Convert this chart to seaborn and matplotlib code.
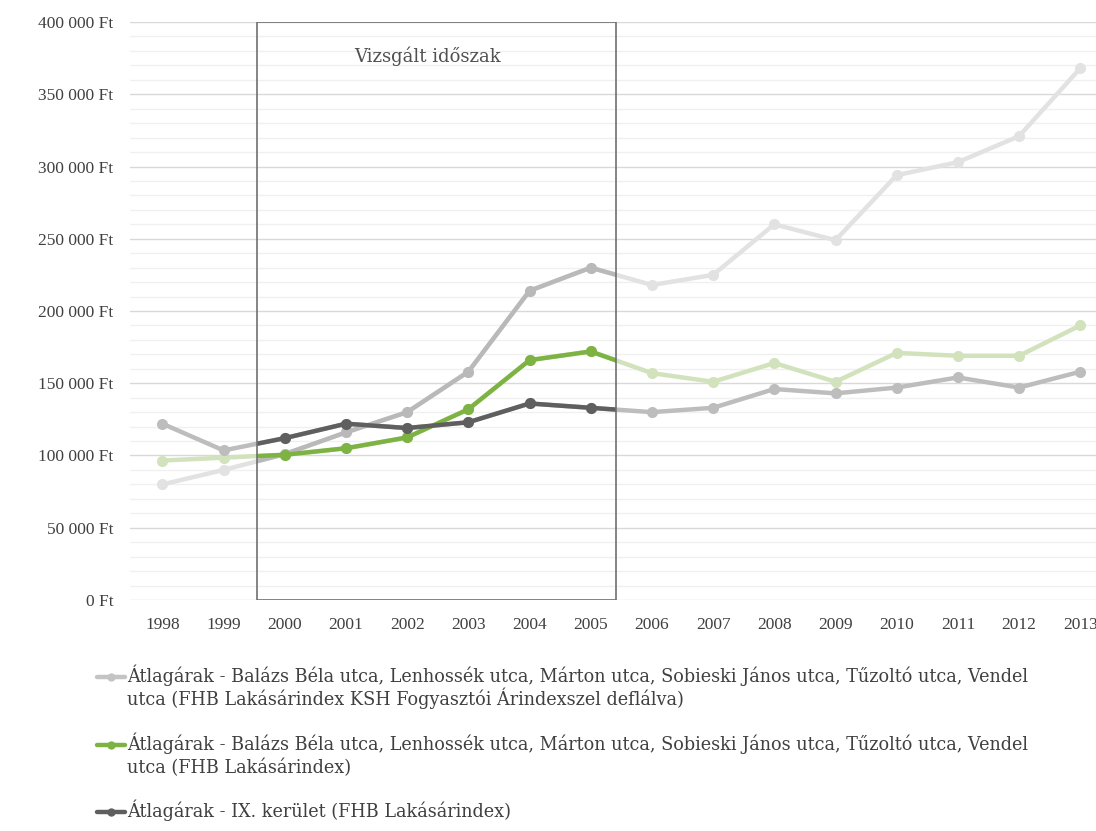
import numpy as np
import pandas as pd
import matplotlib.pyplot as plt
import matplotlib.patches as mpatches
from matplotlib.lines import Line2D
from matplotlib.ticker import FuncFormatter, MultipleLocator
import seaborn as sns

years = list(range(1998, 2014))

# Átlagárak, deflálva (KSH fogyasztói árindex)
deflated = [80000, 90000, 101000, 116000, 130000, 158000, 214000, 230000,
            218000, 225000, 260000, 249000, 294000, 303000, 321000, 368000]
# Átlagárak, FHB Lakásárindex
fhb = [96500, 98500, 100500, 105000, 112500, 132000, 166000, 172000,
       157000, 151000, 164000, 151000, 171000, 169000, 169000, 190000]
# IX. kerület
ix_ker = [122000, 103500, 112000, 122000, 119000, 123000, 136000, 133000,
          130000, 133000, 146000, 143000, 147000, 154000, 147000, 158000]

labels = [
    "Átlagárak - Balázs Béla utca, Lenhossék utca, Márton utca, Sobieski János utca, Tűzoltó utca, Vendel\n"
    "utca (FHB Lakásárindex KSH Fogyasztói Árindexszel deflálva)",
    "Átlagárak - Balázs Béla utca, Lenhossék utca, Márton utca, Sobieski János utca, Tűzoltó utca, Vendel\n"
    "utca (FHB Lakásárindex)",
    "Átlagárak - IX. kerület (FHB Lakásárindex)",
]
window_start, window_end = 1999.545, 2005.41
window_label = "Vizsgált időszak"

# (faded, strong) colours per series
colors = [("#e2e2e2", "#b9b9b9"), ("#d2e2bc", "#7db343"), ("#bdbdbd", "#5f5f5f")]
legend_colors = ["#c4c4c4", "#7db343", "#5f5f5f"]

sns.set_style("white")
plt.rcParams['font.family'] = ['Liberation Serif', 'DejaVu Serif']

W, H = 1096, 831
fig = plt.figure(figsize=(W / 100, H / 100), dpi=100)
ax = fig.add_axes([0.1186, 0.278, 0.881, 0.6955])

# window box, also used as clip path for the highlighted part
box = mpatches.Rectangle((window_start, 0), window_end - window_start, 400000,
                         fill=False, edgecolor="#707070", lw=1.2, zorder=5)
ax.add_patch(box)

df = pd.DataFrame({"year": years, "deflated": deflated, "fhb": fhb, "ix": ix_ker})
for col, (faded, strong) in zip(["deflated", "fhb", "ix"], colors):
    sns.lineplot(data=df, x="year", y=col, ax=ax, color=faded, lw=3.2,
                 marker="o", markersize=8, markeredgewidth=0, zorder=3)
    sns.lineplot(data=df, x="year", y=col, ax=ax, color=strong, lw=3.2,
                 marker="o", markersize=8, markeredgewidth=0, zorder=4)
    ax.lines[-1].set_clip_path(box)

ax.set_xlim(1997.47, 2013.25)
ax.set_ylim(0, 400000)
ax.yaxis.set_major_locator(MultipleLocator(50000))
ax.yaxis.set_minor_locator(MultipleLocator(10000))
ax.yaxis.set_major_formatter(FuncFormatter(lambda v, p: f"{int(v):,} Ft".replace(",", " ")))
ax.set_xticks(years)
ax.grid(True, axis="y", which="major", color="#d9d9d9", lw=1)
ax.grid(True, axis="y", which="minor", color="#f0f0f0", lw=1)
ax.set_axisbelow(True)
for s in ax.spines.values():
    s.set_visible(False)
ax.tick_params(axis="both", which="both", length=0, labelsize=12.5, colors="#404040")
ax.tick_params(axis="y", pad=12)
ax.tick_params(axis="x", pad=12)
ax.set_xlabel("")
ax.set_ylabel("")

ax.text(2002.33, 376000, window_label, ha="center", va="center",
        fontsize=13, family="DejaVu Serif", color="#505050", zorder=6)

# legend below the chart, handle aligned with the first text line
for lab, c, ypx in zip(labels, legend_colors, [677, 745, 812]):
    yf = 1 - ypx / H
    fig.add_artist(Line2D([97 / W, 111 / W, 125 / W], [yf, yf, yf], transform=fig.transFigure,
                          color=c, lw=3.2, marker="o", markersize=6, markeredgewidth=0,
                          markevery=[1]))
    for i, line in enumerate(lab.split("\n")):
        fig.text(127 / W, 1 - (ypx + 23 * i + 5) / H, line, ha="left", va="baseline",
                 family="DejaVu Serif", fontsize=12.7, color="#404040")

fig.savefig("out.png", dpi=100)
